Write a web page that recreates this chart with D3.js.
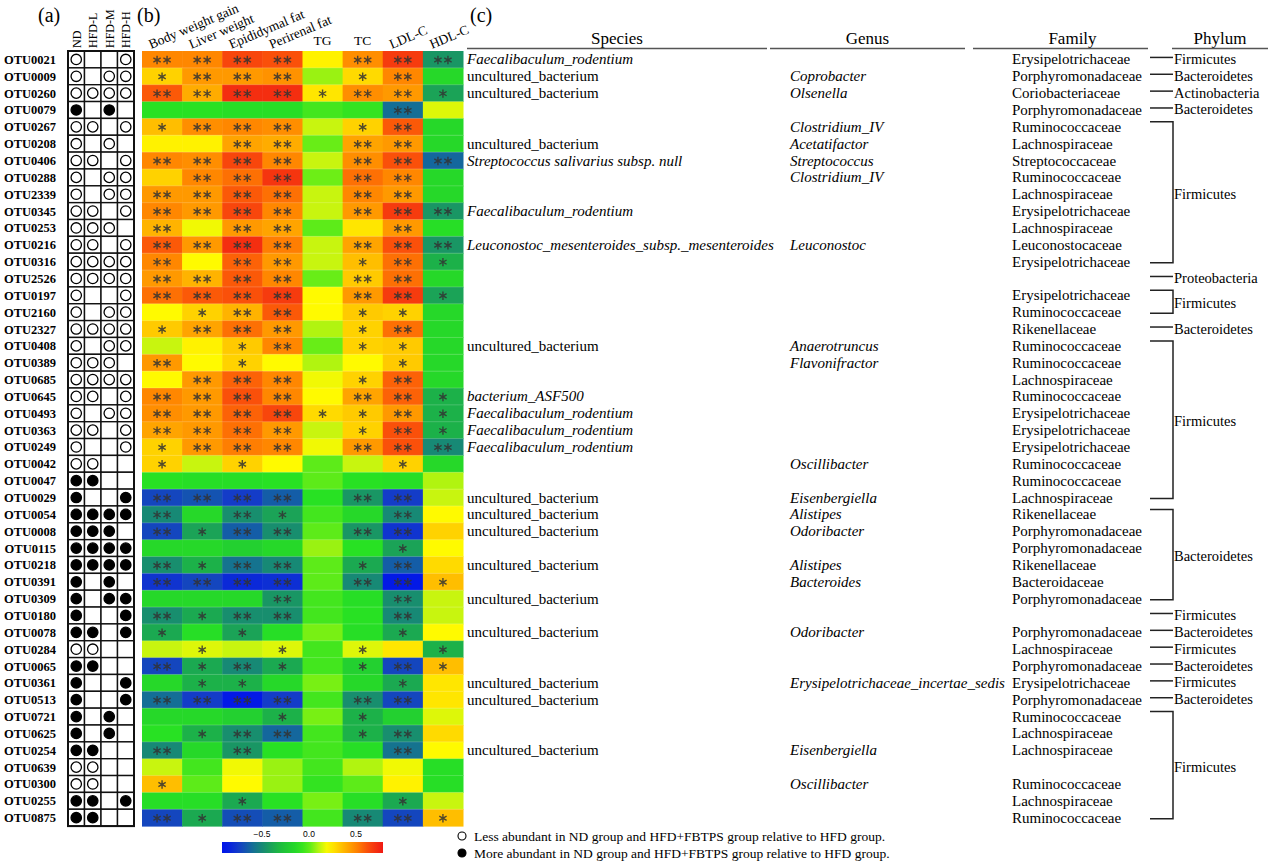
<!DOCTYPE html>
<html><head><meta charset="utf-8">
<script src="https://cdnjs.cloudflare.com/ajax/libs/d3/7.8.5/d3.min.js"></script>
<style>
body{margin:0;background:#fff;}
svg{display:block;font-family:"Liberation Serif","Times New Roman",serif;}
</style></head><body>
<svg id="chart" width="1269" height="864"></svg>
<script>
const otus = ["OTU0021","OTU0009","OTU0260","OTU0079","OTU0267","OTU0208","OTU0406","OTU0288","OTU2339","OTU0345","OTU0253","OTU0216","OTU0316","OTU2526","OTU0197","OTU2160","OTU2327","OTU0408","OTU0389","OTU0685","OTU0645","OTU0493","OTU0363","OTU0249","OTU0042","OTU0047","OTU0029","OTU0054","OTU0008","OTU0115","OTU0218","OTU0391","OTU0309","OTU0180","OTU0078","OTU0284","OTU0065","OTU0361","OTU0513","OTU0721","OTU0625","OTU0254","OTU0639","OTU0300","OTU0255","OTU0875"];
const groups = ["ND","HFD-L","HFD-M","HFD-H"];
// o = open circle (less abundant), f = filled circle (more abundant), _ = none
const groupMarks = [
 "o__o","o_oo","oooo","f_f_","oo_o","o_o_","oo_o","o_oo","o_oo","oo_o",
 "ooo_","oo_o","oooo","oooo","o__o","o_oo","oooo","o_oo","ooo_","oooo",
 "oo_o","o_oo","oo_o","o__o","oo__","ff__","f__f","ffff","fff_","ffff",
 "ffff","f_f_","f_ff","f__f","ff_f","oo__","ff__","f__f","f__f","f_f_",
 "f_f_","ff__","oo__","oo__","ff_f","ff__"];
const traits = ["Body weight gain","Liver weight","Epididymal fat","Perirenal fat","TG","TC","LDL-C","HDL-C"];
// correlation values (rows = OTUs, cols = traits)
const values = [
 [0.50,0.50,0.65,0.62,0.22,0.48,0.68,-0.45],
 [0.30,0.45,0.45,0.47,0.08,0.28,0.50,-0.15],
 [0.60,0.40,0.72,0.72,0.25,0.48,0.45,-0.40],
 [-0.10,-0.10,-0.12,-0.12,-0.05,-0.08,-0.60,0.15],
 [0.35,0.48,0.50,0.48,0.12,0.30,0.60,-0.15],
 [0.22,0.22,0.42,0.40,0.02,0.42,0.45,-0.15],
 [0.50,0.48,0.65,0.50,0.12,0.48,0.62,-0.62],
 [0.30,0.50,0.55,0.70,0.03,0.55,0.50,-0.15],
 [0.45,0.45,0.60,0.55,0.12,0.50,0.45,-0.15],
 [0.50,0.45,0.65,0.50,0.12,0.45,0.68,-0.45],
 [0.38,0.18,0.45,0.42,0.00,0.25,0.45,-0.12],
 [0.60,0.45,0.72,0.52,0.12,0.42,0.62,-0.45],
 [0.50,0.20,0.58,0.45,0.12,0.35,0.55,-0.35],
 [0.45,0.38,0.60,0.50,0.02,0.32,0.55,-0.15],
 [0.55,0.60,0.62,0.68,0.20,0.45,0.68,-0.40],
 [0.20,0.30,0.38,0.60,0.20,0.32,0.30,-0.15],
 [0.32,0.42,0.55,0.45,0.10,0.30,0.55,-0.15],
 [0.12,0.22,0.32,0.50,0.02,0.30,0.32,-0.15],
 [0.45,0.20,0.30,0.20,0.10,0.20,0.32,-0.15],
 [0.20,0.45,0.58,0.50,0.18,0.30,0.58,-0.15],
 [0.50,0.45,0.62,0.50,0.20,0.42,0.58,-0.35],
 [0.48,0.45,0.58,0.65,0.28,0.32,0.45,-0.35],
 [0.42,0.45,0.55,0.45,0.12,0.30,0.62,-0.35],
 [0.30,0.45,0.52,0.50,0.18,0.45,0.62,-0.50],
 [0.30,0.12,0.30,0.20,0.00,0.12,0.30,-0.15],
 [-0.10,-0.12,-0.12,-0.10,0.00,-0.10,-0.12,0.10],
 [-0.72,-0.68,-0.75,-0.65,-0.10,-0.45,-0.75,0.12],
 [-0.50,-0.15,-0.48,-0.40,-0.05,-0.15,-0.50,0.20],
 [-0.72,-0.40,-0.65,-0.48,0.00,-0.45,-0.78,0.30],
 [-0.15,-0.15,-0.20,-0.15,0.08,-0.10,-0.40,0.20],
 [-0.48,-0.35,-0.58,-0.50,0.00,-0.38,-0.65,0.28],
 [-0.78,-0.72,-0.82,-0.80,0.00,-0.50,-0.88,0.35],
 [-0.15,-0.15,-0.15,-0.45,-0.05,-0.12,-0.48,0.12],
 [-0.48,-0.38,-0.48,-0.48,-0.05,-0.10,-0.50,0.12],
 [-0.38,-0.12,-0.40,-0.12,0.05,-0.12,-0.38,0.20],
 [0.12,0.15,0.12,0.15,-0.05,0.15,0.25,-0.35],
 [-0.72,-0.38,-0.50,-0.38,-0.05,-0.20,-0.72,0.35],
 [-0.15,-0.35,-0.35,-0.15,0.05,-0.15,-0.38,0.25],
 [-0.60,-0.75,-0.88,-0.75,-0.05,-0.48,-0.72,0.25],
 [-0.15,-0.15,-0.20,-0.35,0.05,-0.35,-0.20,0.15],
 [-0.10,-0.35,-0.48,-0.62,-0.05,-0.35,-0.48,0.28],
 [-0.50,-0.15,-0.45,-0.10,-0.05,-0.12,-0.58,0.20],
 [0.12,-0.05,0.18,0.08,-0.05,0.10,0.18,-0.12],
 [0.35,0.00,0.20,0.08,-0.08,0.00,0.22,-0.12],
 [-0.12,-0.12,-0.38,-0.10,0.05,-0.12,-0.38,0.12],
 [-0.72,-0.38,-0.70,-0.65,-0.05,-0.50,-0.72,0.35]];
// significance: number of asterisks
const stars = [
 [2,2,2,2,0,2,2,2],[1,2,2,2,0,1,2,0],[2,2,2,2,1,2,2,1],[0,0,0,0,0,0,2,0],
 [1,2,2,2,0,1,2,0],[0,0,2,2,0,2,2,0],[2,2,2,2,0,2,2,2],[0,2,2,2,0,2,2,0],
 [2,2,2,2,0,2,2,0],[2,2,2,2,0,2,2,2],[2,0,2,2,0,0,2,0],[2,2,2,2,0,2,2,2],
 [2,0,2,2,0,1,2,1],[2,2,2,2,0,2,2,0],[2,2,2,2,0,2,2,1],[0,1,2,2,0,1,1,0],
 [1,2,2,2,0,1,2,0],[0,0,1,2,0,1,1,0],[2,0,1,0,0,0,1,0],[0,2,2,2,0,1,2,0],
 [2,2,2,2,0,2,2,1],[2,2,2,2,1,1,2,1],[2,2,2,2,0,1,2,1],[1,2,2,2,0,2,2,2],
 [1,0,1,0,0,0,1,0],[0,0,0,0,0,0,0,0],[2,2,2,2,0,2,2,0],[2,0,2,1,0,0,2,0],
 [2,1,2,2,0,2,2,0],[0,0,0,0,0,0,1,0],[2,1,2,2,0,1,2,0],[2,2,2,2,0,2,2,1],
 [0,0,0,2,0,0,2,0],[2,1,2,2,0,0,2,0],[1,0,1,0,0,0,1,0],[0,1,0,1,0,1,0,1],
 [2,1,2,1,0,1,2,1],[0,1,1,0,0,0,1,0],[2,2,2,2,0,2,2,0],[0,0,0,1,0,1,0,0],
 [0,1,2,2,0,1,2,0],[2,0,2,0,0,0,2,0],[0,0,0,0,0,0,0,0],[1,0,0,0,0,0,0,0],
 [0,0,1,0,0,0,1,0],[2,1,2,2,0,2,2,1]];
const species = ["Faecalibaculum_rodentium","uncultured_bacterium","uncultured_bacterium","","","uncultured_bacterium","Streptococcus salivarius subsp. null","","","Faecalibaculum_rodentium","","Leuconostoc_mesenteroides_subsp._mesenteroides","","","","","","uncultured_bacterium","","","bacterium_ASF500","Faecalibaculum_rodentium","Faecalibaculum_rodentium","Faecalibaculum_rodentium","","","uncultured_bacterium","uncultured_bacterium","uncultured_bacterium","","uncultured_bacterium","","uncultured_bacterium","","uncultured_bacterium","","","uncultured_bacterium","uncultured_bacterium","","","uncultured_bacterium","","","",""];
const genus = ["","Coprobacter","Olsenella","","Clostridium_IV","Acetatifactor","Streptococcus","Clostridium_IV","","","","Leuconostoc","","","","","","Anaerotruncus","Flavonifractor","","","","","","Oscillibacter","","Eisenbergiella","Alistipes","Odoribacter","","Alistipes","Bacteroides","","","Odoribacter","","","Erysipelotrichaceae_incertae_sedis","","","","Eisenbergiella","","Oscillibacter","",""];
const family = ["Erysipelotrichaceae","Porphyromonadaceae","Coriobacteriaceae","Porphyromonadaceae","Ruminococcaceae","Lachnospiraceae","Streptococcaceae","Ruminococcaceae","Lachnospiraceae","Erysipelotrichaceae","Lachnospiraceae","Leuconostocaceae","Erysipelotrichaceae","","Erysipelotrichaceae","Ruminococcaceae","Rikenellaceae","Ruminococcaceae","Ruminococcaceae","Lachnospiraceae","Ruminococcaceae","Erysipelotrichaceae","Erysipelotrichaceae","Erysipelotrichaceae","Ruminococcaceae","Ruminococcaceae","Lachnospiraceae","Rikenellaceae","Porphyromonadaceae","Porphyromonadaceae","Rikenellaceae","Bacteroidaceae","Porphyromonadaceae","","Porphyromonadaceae","Lachnospiraceae","Porphyromonadaceae","Erysipelotrichaceae","Porphyromonadaceae","Ruminococcaceae","Lachnospiraceae","Lachnospiraceae","","Ruminococcaceae","Lachnospiraceae","Ruminococcaceae"];
// phylum spans: first row index, last row index (0-based)
const phylumStart = [0,1,2,3,4,13,14,16,17,27,33,34,35,36,37,38,39];
const phylumEnd   = [0,1,2,3,12,13,15,16,26,32,33,34,35,36,37,38,45];
const phylumName  = ["Firmicutes","Bacteroidetes","Actinobacteria","Bacteroidetes","Firmicutes","Proteobacteria","Firmicutes","Bacteroidetes","Firmicutes","Bacteroidetes","Firmicutes","Bacteroidetes","Firmicutes","Bacteroidetes","Firmicutes","Bacteroidetes","Firmicutes"];
const taxHeaders = ["Species","Genus","Family","Phylum"];
const colorTicks = [-0.5,0,0.5];
const legendTexts = ["Less abundant in ND group and HFD+FBTPS group relative to HFD group.","More abundant in ND group and HFD+FBTPS group relative to HFD group."];

const svg = d3.select("#chart");
const top0 = 51, rowH = 16.85;
const y = d3.scaleBand().domain(otus).range([top0, top0 + otus.length*rowH]);
const xG = d3.scaleBand().domain(groups).range([68,134]);
const xH = d3.scaleBand().domain(traits).range([142,463]);

const color = d3.scaleLinear()
 .domain([-0.9,-0.75,-0.6,-0.45,-0.3,-0.1,0.05,0.12,0.2,0.35,0.5,0.62,0.78])
 .range(["rgb(0,20,235)","rgb(20,60,200)","rgb(20,110,150)","rgb(25,150,100)","rgb(30,190,60)","rgb(40,225,35)","rgb(120,240,20)","rgb(200,245,15)","rgb(255,250,0)","rgb(255,190,0)","rgb(255,135,0)","rgb(250,80,10)","rgb(240,25,20)"])
 .clamp(true);

// six-armed asterisk symbol
const asterisk = {draw(ctx, size){
  const r = Math.sqrt(size)/2;
  for(let k=0;k<3;k++){
    const a = Math.PI/2 + k*Math.PI/3;
    ctx.moveTo(r*Math.cos(a), r*Math.sin(a));
    ctx.lineTo(-r*Math.cos(a), -r*Math.sin(a));
  }
}};
const starPath = d3.symbol().type(asterisk).size(72)();

// panel labels
svg.append("text").attr("x",38).attr("y",22).attr("font-size",20).text("(a)");
svg.append("text").attr("x",137).attr("y",22).attr("font-size",20).text("(b)");
svg.append("text").attr("x",470).attr("y",22).attr("font-size",20).text("(c)");

// row labels
svg.append("g").selectAll("text").data(otus).join("text")
 .attr("x",56).attr("y",d=>y(d)+y.bandwidth()/2+4.5)
 .attr("text-anchor","end").attr("font-size",12.5).attr("font-weight","bold").text(d=>d);

// group headers (vertical)
svg.append("g").selectAll("text").data(groups).join("text")
 .attr("transform",d=>`translate(${xG(d)+xG.bandwidth()/2+4.5},48) rotate(-90)`)
 .attr("font-size",12).text(d=>d);

// group grid
const gA = svg.append("g");
otus.forEach((o,i)=>{
  groups.forEach((g,j)=>{
    gA.append("rect").attr("x",xG(g)).attr("y",y(o)).attr("width",xG.bandwidth()).attr("height",y.bandwidth())
      .attr("fill","#fff").attr("stroke","#111").attr("stroke-width",1.4);
    const m = groupMarks[i][j];
    if(m==="o"||m==="f"){
      gA.append("circle").attr("cx",xG(g)+xG.bandwidth()/2).attr("cy",y(o)+y.bandwidth()/2).attr("r",5.2)
        .attr("fill",m==="f"?"#000":"#fff").attr("stroke","#000").attr("stroke-width",1.3);
    }
  });
});
gA.append("rect").attr("x",68).attr("y",top0).attr("width",66).attr("height",otus.length*rowH)
  .attr("fill","none").attr("stroke","#111").attr("stroke-width",2);

// trait headers
const th = svg.append("g");
traits.forEach(t=>{
  if(t==="TG"||t==="TC"){
    th.append("text").attr("x",xH(t)+xH.bandwidth()/2).attr("y",45).attr("text-anchor","middle").attr("font-size",13.5).text(t);
  } else {
    th.append("text").attr("transform",`translate(${xH(t)+9},49) rotate(-23)`).attr("font-size",13.5).text(t);
  }
});

// heatmap
const hm = svg.append("g");
otus.forEach((o,i)=>{
  traits.forEach((t,j)=>{
    hm.append("rect").attr("x",xH(t)).attr("y",y(o)).attr("width",xH.bandwidth()+0.5).attr("height",y.bandwidth()+0.5)
      .attr("fill",color(values[i][j]));
  });
});
otus.forEach((o,i)=>{ if(i>0) hm.append("line").attr("x1",142).attr("x2",463).attr("y1",y(o)).attr("y2",y(o)).attr("stroke","#fff").attr("stroke-opacity",0.25).attr("stroke-width",0.8);});
otus.forEach((o,i)=>{
  traits.forEach((t,j)=>{
    const s = stars[i][j];
    const cx = xH(t)+xH.bandwidth()/2, cy = y(o)+y.bandwidth()/2+0.5;
    const offs = s===2 ? [-5,5] : (s===1 ? [0] : []);
    offs.forEach(dx=>{
      hm.append("path").attr("d",starPath).attr("transform",`translate(${cx+dx},${cy})`)
        .attr("fill","none").attr("stroke","#333").attr("stroke-width",1.4).attr("stroke-opacity",0.85);
    });
  });
});

// colour bar
const cbX = d3.scaleLinear().domain([-0.5,0.5]).range([262,356]);
const cbMin = cbX.invert(222), cbMax = cbX.invert(383);
const defs = svg.append("defs");
const grad = defs.append("linearGradient").attr("id","cbgrad");
d3.range(0,1.0001,0.05).forEach(f=>{
  grad.append("stop").attr("offset",f).attr("stop-color",color(cbMin+f*(cbMax-cbMin)));
});
svg.append("rect").attr("x",222).attr("y",842).attr("width",161).attr("height",11).attr("fill","url(#cbgrad)");
svg.append("g").selectAll("text").data(colorTicks).join("text")
 .attr("x",d=>cbX(d)).attr("y",837).attr("text-anchor","middle").attr("font-size",8.5).attr("font-family","Liberation Sans, Arial, sans-serif")
 .text(d=>d3.format(".1f")(d));

// panel (c) headers
const hx = {Species:[467,767],Genus:[770,965],Family:[973,1148],Phylum:[1172,1268]};
taxHeaders.forEach(h=>{
  const [a,b] = hx[h];
  svg.append("text").attr("x",(a+b)/2 + (h==="Family"?12:0)).attr("y",44).attr("text-anchor","middle").attr("font-size",17).text(h);
  svg.append("line").attr("x1",a).attr("x2",b).attr("y1",48.5).attr("y2",48.5).attr("stroke","#555").attr("stroke-width",1.3);
});

const tc = svg.append("g").attr("font-size",15);
otus.forEach((o,i)=>{
  const cy = y(o)+y.bandwidth()/2+5;
  if(species[i]) tc.append("text").attr("x",467).attr("y",cy)
     .attr("font-style",species[i]==="uncultured_bacterium"?"normal":"italic").text(species[i]);
  if(genus[i]) tc.append("text").attr("x",790).attr("y",cy).attr("font-style","italic").text(genus[i]);
  if(family[i]) tc.append("text").attr("x",1012).attr("y",cy).text(family[i]);
});

// phylum brackets
const pg = svg.append("g");
phylumName.forEach((p,k)=>{
  const s = phylumStart[k], e = phylumEnd[k];
  const y1 = y(otus[s])+y.bandwidth()/2-2, y2 = y(otus[e])+y.bandwidth()/2-2;
  if(s===e){
    pg.append("line").attr("x1",1150).attr("x2",1173).attr("y1",y1).attr("y2",y1).attr("stroke","#222").attr("stroke-width",1.5);
    pg.append("text").attr("x",1174).attr("y",y1+6.5).attr("font-size",14.5).text(p);
  } else {
    pg.append("path").attr("d",`M1150,${y1-3}H1173V${y2+3}H1150`).attr("fill","none").attr("stroke","#222").attr("stroke-width",1.5);
    pg.append("text").attr("x",1174).attr("y",(y1+y2)/2+6.5).attr("font-size",14.5).text(p);
  }
});

// legend
const lg = svg.append("g");
legendTexts.forEach((t,i)=>{
  const ly = 836 + i*17;
  lg.append("circle").attr("cx",462).attr("cy",ly).attr("r",4).attr("fill",i===1?"#000":"#fff").attr("stroke","#000").attr("stroke-width",1.1);
  lg.append("text").attr("x",474).attr("y",ly+4.5).attr("font-size",13.5).text(t);
});
</script>
</body></html>
